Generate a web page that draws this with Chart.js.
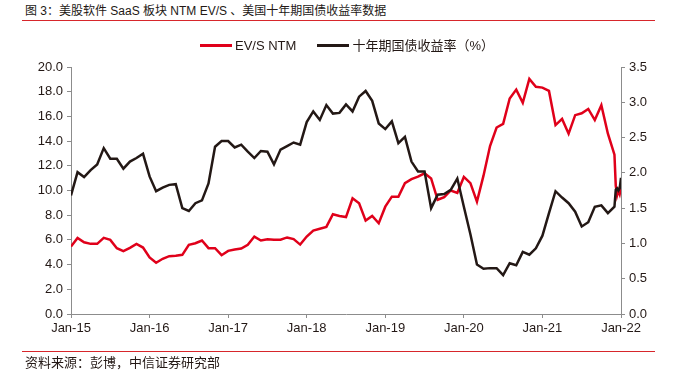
<!DOCTYPE html>
<html><head><meta charset="utf-8">
<script src="https://cdn.jsdelivr.net/npm/chart.js@4/dist/chart.umd.min.js"></script>
<style>
html,body{margin:0;padding:0;background:#fff;width:676px;height:376px;overflow:hidden;}
body{position:relative;font-family:"Liberation Sans","Noto Sans CJK SC",sans-serif;color:#231815;}
#title{position:absolute;left:25px;top:3px;font-size:12px;line-height:16px;white-space:nowrap;}
.rule{position:absolute;left:22px;width:633px;height:1px;background:#d7262b;}
#wrap{position:absolute;left:0;top:0;width:676px;height:376px;}
#legend{position:absolute;top:38px;left:200px;font-size:13px;line-height:16px;white-space:nowrap;}
#legend .item{display:inline-block;}
#legend .sw{display:inline-block;width:32px;height:2.5px;vertical-align:middle;margin-right:3px;position:relative;top:-1px;}
#source{position:absolute;left:25px;top:355px;font-size:13px;line-height:16px;white-space:nowrap;}
</style></head>
<body>
<div id="title">图 3：美股软件 SaaS 板块 NTM EV/S 、美国十年期国债收益率数据</div>
<div class="rule" style="top:20px"></div>
<div id="wrap"><canvas id="c" width="676" height="376"></canvas></div>
<div id="legend"><span class="item"><span class="sw" style="background:#e0001a"></span>EV/S NTM</span><span class="item" style="margin-left:21px"><span class="sw" style="background:#231815"></span>十年期国债收益率（%）</span></div>
<div class="rule" style="top:351px"></div>
<div id="source">资料来源：彭博，中信证券研究部</div>
<script>
// Monthly periods Jan-2015 .. Dec-2021, then weekly observations in Jan/Feb 2022
const monthlyYears = [2015, 2016, 2017, 2018, 2019, 2020, 2021];
const weeklyDates = ['2022-01-07', '2022-01-14', '2022-01-21', '2022-01-28', '2022-02-04'];
const tickLabels = ['Jan-15', 'Jan-16', 'Jan-17', 'Jan-18', 'Jan-19', 'Jan-20', 'Jan-21', 'Jan-22'];

const evsNTM = [
  5.46, 6.16, 5.81, 5.68, 5.68, 6.16, 6.00, 5.33, 5.09, 5.36, 5.68, 5.38,
  4.58, 4.15, 4.47, 4.68, 4.71, 4.79, 5.60, 5.73, 5.95, 5.33, 5.33, 4.76,
  5.11, 5.22, 5.30, 5.60, 6.27, 5.95, 6.06, 6.02, 6.02, 6.20, 6.06, 5.62,
  6.27, 6.76, 6.90, 7.05, 8.08, 7.94, 7.85, 9.37, 8.96, 7.56, 7.94, 7.35,
  8.69, 9.50, 9.50, 10.60, 10.92, 11.12, 11.39, 10.98, 9.25, 9.45, 10.00, 9.80,
  11.10, 10.60, 9.10, 11.20, 13.60, 15.10, 15.40, 17.45, 18.17, 17.10, 19.03, 18.40,
  18.33, 18.06, 15.30, 15.80, 14.60, 16.10, 16.25, 16.60, 15.70, 16.90, 14.60, 12.90,
  10.4, 9.6, 10.0, 9.7, 10.2
];
const ust10y = [
  1.68, 2.01, 1.94, 2.04, 2.12, 2.35, 2.20, 2.20, 2.06, 2.16, 2.21, 2.27,
  1.95, 1.74, 1.79, 1.83, 1.84, 1.50, 1.46, 1.57, 1.61, 1.85, 2.37, 2.45,
  2.45, 2.36, 2.40, 2.30, 2.21, 2.31, 2.30, 2.12, 2.33, 2.38, 2.43, 2.40,
  2.72, 2.87, 2.75, 2.96, 2.84, 2.85, 2.97, 2.87, 3.08, 3.16, 3.02, 2.70,
  2.62, 2.73, 2.42, 2.51, 2.16, 2.02, 2.02, 1.50, 1.69, 1.70, 1.76, 1.92,
  1.52, 1.13, 0.70, 0.64, 0.65, 0.65, 0.55, 0.72, 0.69, 0.88, 0.84, 0.93,
  1.11, 1.43, 1.74, 1.65, 1.57, 1.45, 1.24, 1.30, 1.52, 1.54, 1.43, 1.52,
  1.76, 1.78, 1.75, 1.78, 1.93
];

// period list (dates) -> position on a month axis
const periods = [];
monthlyYears.forEach(y => { for (let m = 1; m <= 12; m++) periods.push(y + '-' + String(m).padStart(2, '0')); });
weeklyDates.forEach(d => periods.push(d));
function monthPos(p) {
  const parts = p.split('-').map(Number);
  if (parts.length === 2) return (parts[0] - 2015) * 12 + parts[1] - 1;
  const days = (Date.UTC(parts[0], parts[1] - 1, parts[2]) - Date.UTC(2021, 11, 31)) / 86400000;
  return 83 + days / 35;
}
const toXY = arr => periods.map((p, k) => ({ x: monthPos(p), y: arr[k] }));

const FONT = { family: '"Liberation Sans","Noto Sans CJK SC",sans-serif', size: 13 };
const AX = '#8c8c8c';
const TXT = '#231815';

new Chart(document.getElementById('c'), {
  type: 'line',
  data: {
    datasets: [
      { label: '十年期国债收益率（%）', data: toXY(ust10y), yAxisID: 'y1', borderColor: '#231815', borderWidth: 2.5, pointRadius: 0, tension: 0, fill: false },
      { label: 'EV/S NTM', data: toXY(evsNTM), yAxisID: 'y', borderColor: '#e0001a', borderWidth: 2.5, pointRadius: 0, tension: 0, fill: false }
    ]
  },
  options: {
    responsive: false, animation: false, devicePixelRatio: 1,
    layout: { padding: { top: 67, left: 0, right: 0, bottom: 0 } },
    plugins: { legend: { display: false }, tooltip: { enabled: false } },
    scales: {
      x: {
        type: 'linear', min: 0, max: 84,
        afterFit: s => { s.height = 62; },
        ticks: { stepSize: 12, autoSkip: false, maxRotation: 0, padding: 3, font: FONT, color: TXT,
          callback: v => tickLabels[Math.round(v / 12)] },
        grid: { drawOnChartArea: false, drawTicks: true, tickLength: 4, color: AX },
        border: { color: AX, width: 1 }
      },
      y: {
        position: 'left', min: 0, max: 20,
        afterFit: s => { s.width = 71; },
        ticks: { stepSize: 2, padding: 4, font: FONT, color: TXT, callback: v => v.toFixed(1) },
        grid: { drawOnChartArea: false, drawTicks: true, tickLength: 4, color: AX },
        border: { color: AX, width: 1 }
      },
      y1: {
        position: 'right', min: 0, max: 3.5,
        afterFit: s => { s.width = 55; },
        ticks: { stepSize: 0.5, padding: 4, font: FONT, color: TXT, callback: v => v.toFixed(1) },
        grid: { drawOnChartArea: false, drawTicks: true, tickLength: 4, color: AX },
        border: { color: AX, width: 1 }
      }
    }
  }
});
</script>
</body></html>
